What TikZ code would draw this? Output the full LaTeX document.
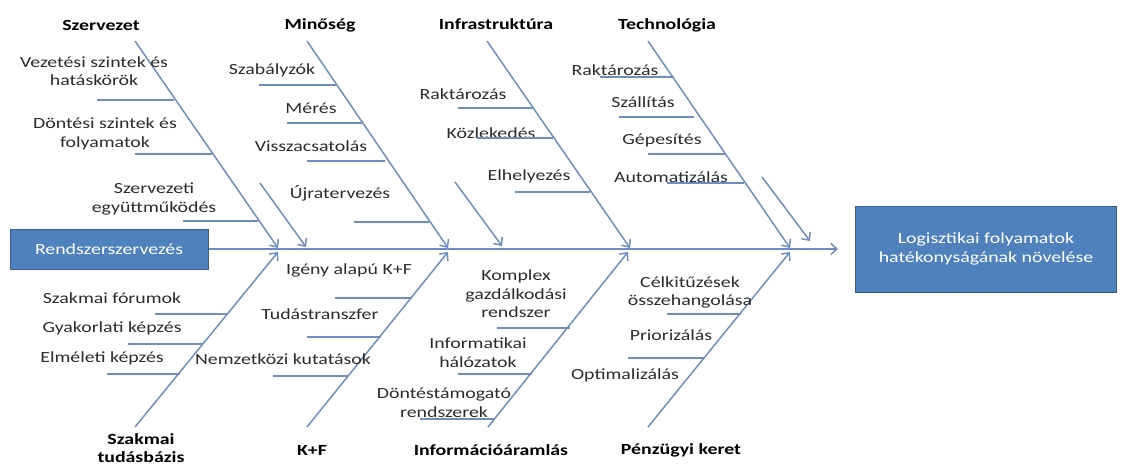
\documentclass[tikz,border=0pt]{standalone}
\usepackage{fontspec}
\setmainfont{Carlito}[FakeStretch=1.28]
\usetikzlibrary{arrows.meta}

\definecolor{bonecol}{HTML}{6F8DC0}
\definecolor{boxfill}{HTML}{4F81BD}
\definecolor{boxline}{HTML}{3A5F8C}
\definecolor{txtcol}{HTML}{2B2B2B}

\newcommand{\fbfont}{\fontsize{15.5}{18.5}\selectfont}

\tikzset{
  bone/.style={draw=bonecol, line width=1.5pt, -{Straight Barb[length=6pt,width=11pt]}},
  rib/.style={draw=bonecol, line width=1.5pt},
  cause/.style={font=\fbfont\bfseries, text=black, align=center, inner sep=0pt},
  item/.style={font=\fbfont, text=txtcol, align=center, inner sep=0pt},
  effect/.style={font=\fbfont, fill=boxfill, draw=boxline, line width=1pt, text=white, align=center},
}

\begin{document}
\begin{tikzpicture}[x=1pt,y=-1pt]
        \useasboundingbox (0,0) rectangle (1121,466);
        % head and tail
        \node[effect, minimum width=198pt, minimum height=40pt] (rend) at (109,249) {Rendszerszervezés};
        \node[effect, minimum width=261pt, minimum height=86pt] (goal) at (986,249) {Logisztikai folyamatok\\hatékonyságának növelése};
        \coordinate (head) at (838,249);
        \draw[bone] (rend.east) -- (head);
        % main bones
        \foreach \n/\sx/\ex in {org/135/278,qual/307/448,infra/487/630,tech/648/790} {
            \coordinate (\n-s) at (\sx,41);
            \coordinate (\n-e) at (\ex,248);
            \draw[bone] (\n-s) -- (\n-e);
        }
        \foreach \n/\sx/\ex in {know/135/278,rd/307/448,info/488/628,fin/648/790} {
            \coordinate (\n-s) at (\sx,427);
            \coordinate (\n-e) at (\ex,252);
            \draw[bone] (\n-s) -- (\n-e);
        }
        % short arrows
        \foreach \n/\sx/\sy/\ex/\ey in {a/260/183/306/247,b/455/182/502/246,c/762/177/810/241} {
            \coordinate (\n-s) at (\sx,\sy);
            \coordinate (\n-e) at (\ex,\ey);
            \draw[bone] (\n-s) -- (\n-e);
        }
        % cause labels
        \foreach \n/\t/\x/\y in {org/Szervezet/101/25,qual/Minőség/320/25,infra/Infrastruktúra/496/24,
                tech/Technológia/667/25,know/{Szakmai\\tudásbázis}/141/448,rd/K+F/312/450,
                info/Információáramlás/491/450,fin/Pénzügyi keret/681/450} {
            \node[cause] (\n-lbl) at (\x,\y) {\t};
        }
        % items with their ribs
        \foreach \t/\x/\y/\a/\b/\r [count=\k] in {
                {Vezetési szintek és\\hatáskörök}/94/71/97/174/100,
                {Döntési szintek és\\folyamatok}/105/134/135/212/154,
                {Szervezeti\\együttműködés}/154/199/183/258/221,
                Szabályzók/272/70/259/336/85,
                Mérés/311/108/287/362/123,
                Visszacsatolás/311/146/307/385/161,
                Újratervezés/340/193/354/429/222,
                Raktározás/463/94/458/534/108,
                Közlekedés/491/133/477/553/138,
                Elhelyezés/529/176/515/590/192,
                Raktározás/615/70/600/674/77,
                Szállítás/643/102/619/694/117,
                Gépesítés/662/140/648/725/154,
                Automatizálás/671/177/667/744/183,
                Szakmai fórumok/112/298/155/228/314,
                Gyakorlati képzés/112/328/128/203/344,
                Elméleti képzés/102/358/107/180/374,
                Igény alapú K+F/349/270/335/412/298,
                Tudástranszfer/320/314/307/381/337,
                Nemzetközi kutatások/283/359/273/348/376,
                {Komplex\\gazdálkodási\\rendszer}/516/294/497/570/328,
                {Informatikai\\hálózatok}/478/352.5/458/532/374,
                {Döntéstámogató\\rendszerek}/444/403/420/495/419,
                {Célkitűzések\\összehangolása}/690/292.5/667/741/314,
                Priorizálás/671/335/628/704/358} {
            \node[item] (it\k) at (\x,\y) {\t};
            \path[rib] (\a,\r) -- (\b,\r);
        }
        \node[item] (optim) at (625,375) {Optimalizálás};
\end{tikzpicture}
\end{document}
